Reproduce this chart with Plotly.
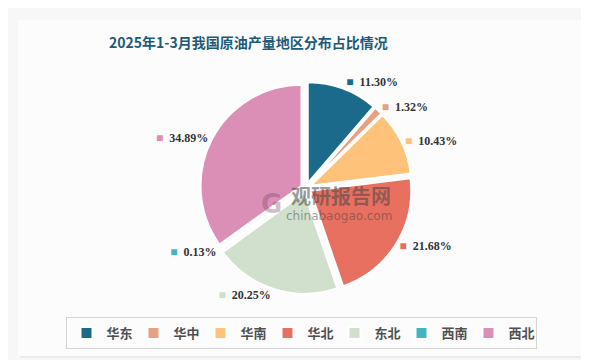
import plotly.graph_objects as go

regions = ["华东", "华中", "华南", "华北", "东北", "西南", "西北"]
shares = [11.30, 1.32, 10.43, 21.68, 20.25, 0.13, 34.89]
colors = ["#1b6a8c", "#e8a07e", "#ffc27a", "#e87060", "#d0e0cc", "#45b3c0", "#db8fb6"]
title_text = "2025年1-3月我国原油产量地区分布占比情况"

W, H = 589, 360
labels_html = [
    f"<span style='color:{c}'>■</span>  <b>{v:.2f}%</b>" for c, v in zip(colors, shares)
]

cx, cy, half = 298, 180, 106

fig = go.Figure()
fig.add_trace(go.Pie(
    labels=regions,
    values=shares,
    sort=False,
    direction="clockwise",
    rotation=0,
    marker=dict(colors=colors, line=dict(color="white", width=2)),
    pull=0.05,
    customdata=labels_html,
    texttemplate="%{customdata}",
    textposition="outside",
    textfont=dict(family="Liberation Serif, DejaVu Serif, serif", size=12, color="#333333"),
    hoverinfo="label+percent",
    domain=dict(x=[(cx - half) / W, (cx + half) / W], y=[1 - (cy + half) / H, 1 - (cy - half) / H]),
    showlegend=True,
))

# panel background
fig.add_shape(type="rect", xref="paper", yref="paper",
              x0=12 / W, x1=580 / W, y0=1 - 350 / H, y1=1 - 14 / H,
              fillcolor="#ececec", line=dict(width=0), layer="below")
fig.add_shape(type="rect", xref="paper", yref="paper",
              x0=10 / W, x1=578 / W, y0=1 - 348 / H, y1=1 - 12 / H,
              fillcolor="#fcfcfc", line=dict(width=0), layer="below")

fig.add_annotation(text=f"<b>{title_text}</b>", xref="paper", yref="paper",
                   x=241 / W, y=1 - 34 / H, showarrow=False, xanchor="center", yanchor="middle",
                   font=dict(family="Noto Sans CJK SC, serif", size=14, color="#1d5a78"))

# watermark
fig.add_annotation(text="<b>观研报告网</b>", xref="paper", yref="paper",
                   x=333 / W, y=1 - 187 / H, showarrow=False,
                   font=dict(family="Noto Sans CJK SC", size=20, color="rgba(70,70,70,0.55)"))
fig.add_annotation(text="chinabaogao.com", xref="paper", yref="paper",
                   x=331 / W, y=1 - 208 / H, showarrow=False,
                   font=dict(family="DejaVu Sans", size=12, color="rgba(70,70,70,0.5)"))
fig.add_annotation(text="<b>G</b>", xref="paper", yref="paper",
                   x=263 / W, y=1 - 196 / H, showarrow=False,
                   font=dict(family="DejaVu Sans", size=26, color="rgba(120,70,100,0.35)"))

fig.update_layout(
    width=W, height=H,
    margin=dict(l=0, r=0, t=0, b=0),
    paper_bgcolor="#f7f7f7",
    plot_bgcolor="#f7f7f7",
    legend=dict(orientation="h", x=293 / W, y=1 - 325 / H, xanchor="center", yanchor="middle",
                bordercolor="#d4d4d4", borderwidth=1, bgcolor="rgba(0,0,0,0)",
                font=dict(family="Noto Sans CJK SC", size=13, color="#505050", weight="bold"),
                itemwidth=30, entrywidth=22, entrywidthmode="pixels",
                tracegroupgap=0, traceorder="normal"),
)

fig.write_html("out.html")
